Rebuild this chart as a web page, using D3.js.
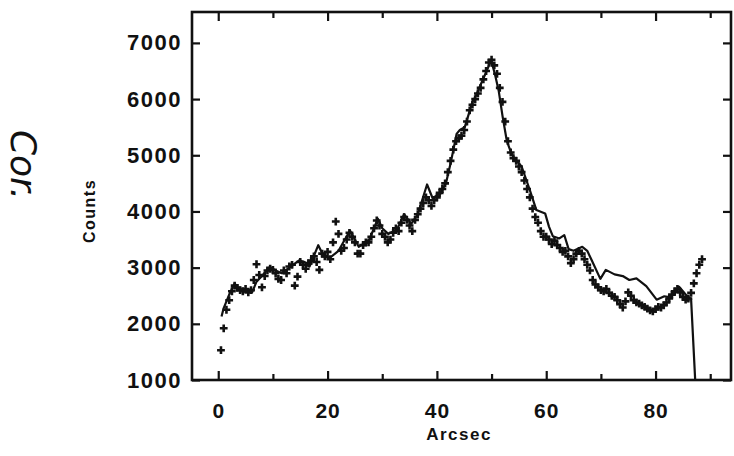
<!DOCTYPE html>
<html>
<head>
<meta charset="utf-8">
<script src="https://cdn.jsdelivr.net/npm/d3@7/dist/d3.min.js"></script>
<style>
  html, body { margin: 0; padding: 0; background: #fff; }
  svg { display: block; }
  .tick text { font-family: "Liberation Sans", Arial, sans-serif; font-weight: bold; fill: #111; }
</style>
</head>
<body>
<svg id="chart" width="734" height="456"></svg>
<script>
// Model profile (solid curve): arcsec positions and counts
const modelArcsec = [0.6, 1, 2, 3, 3.5, 4.5, 6.2, 7, 8, 9.4, 10.5, 11.6, 13, 14.8, 15.8, 16.7, 18.3, 19.3,
  20.5, 22, 24.1, 25, 25.7, 27.6, 29.2, 30, 31.1, 32.7, 34, 35.3, 36.5, 38.2, 39.2, 40.7, 41.7, 42.6,
  43.6, 44.2, 45.1, 46.5, 47.1, 48.1, 49.1, 49.9, 50.6, 51.3, 52, 52.8, 53.4, 54, 55.5, 57, 58.2, 59.8,
  60.5, 61.2, 62.4, 63.3, 64.1, 65, 66.6, 67.5, 68.3, 69.9, 70.9, 72.5, 74, 75.2, 76.5, 78.3, 80.2,
  81.6, 82.7, 84.3, 85.7, 86.5, 87.3];
const modelCounts = [2130, 2280, 2520, 2720, 2650, 2600, 2560, 2750, 2850, 3010, 2950, 2900, 3000, 3130,
  3100, 3020, 3400, 3200, 3180, 3300, 3660, 3500, 3370, 3490, 3870, 3700, 3600, 3680, 3950, 3780, 3950,
  4480, 4240, 4320, 4520, 4900, 5380, 5450, 5500, 5950, 6050, 6280, 6500, 6690, 6450, 6150, 5700, 5250,
  5090, 4970, 4800, 4380, 4025, 3965, 3730, 3560, 3520, 3580, 3330, 3300, 3370, 3300, 3135, 2800, 2960,
  2880, 2850, 2780, 2810, 2670, 2430, 2490, 2470, 2660, 2500, 2440, 900];

// Observed profile (plus markers), sampled every 0.5 arcsec from 0.5 to 88.5
const obsArcsec = d3.range(0.5, 88.51, 0.5);
const obsCounts = [
  1530, 1920, 2250, 2420, 2580, 2680, 2640, 2600, 2580, 2620,
  2560, 2600, 2780, 3060, 2870, 2650, 2850, 2950, 2980, 2960,
  2900, 2800, 2780, 2950, 2900, 3020, 3050, 2680, 2840, 3100,
  3050, 2980, 3080, 3120, 3200, 3100, 2960, 3250, 3200, 3280,
  3150, 3450, 3820, 3600, 3300, 3350, 3500, 3620, 3550, 3450,
  3250, 3250, 3400, 3450, 3450, 3550, 3700, 3840, 3750, 3600,
  3550, 3450, 3500, 3620, 3700, 3650, 3800, 3900, 3850, 3750,
  3650, 3850, 3950, 4050, 4150, 4250, 4200, 4100, 4200, 4250,
  4330, 4400, 4500, 4700, 4900, 5100, 5250, 5300, 5350, 5450,
  5600, 5800, 5900, 6000, 6100, 6200, 6350, 6500, 6650, 6700,
  6600, 6450, 6200, 5950, 5600, 5250, 5050, 4950, 4900, 4800,
  4700, 4550, 4400, 4250, 4050, 3900, 3800, 3650, 3550, 3550,
  3500, 3420, 3480, 3400, 3350, 3280, 3300, 3200, 3080, 3150,
  3250, 3300, 3250, 3150, 3050, 2950, 2780, 2700, 2650, 2600,
  2580, 2620, 2550, 2500, 2480, 2420, 2350, 2290, 2400, 2560,
  2500, 2420, 2380, 2360, 2330, 2300, 2270, 2240, 2220, 2260,
  2300, 2290, 2330, 2380, 2450, 2520, 2580, 2620, 2560, 2480,
  2430, 2450, 2550, 2720, 2900, 3050, 3150];

// Axis ticks
const xMajorTicks = [0, 20, 40, 60, 80];
const xMinorTicks = [10, 30, 50, 70, 90];
const yTicks = [1000, 2000, 3000, 4000, 5000, 6000, 7000];

const svg = d3.select("#chart");
const plot = { left: 192, right: 731, top: 12, bottom: 380 };

const x = d3.scaleLinear().domain([-4.8, 93.8]).range([plot.left, plot.right]);
const y = d3.scaleLinear().domain([1000, 7550]).range([plot.bottom, plot.top]);

svg.append("defs").append("clipPath").attr("id", "plotClip")
  .append("rect")
  .attr("x", plot.left).attr("y", plot.top)
  .attr("width", plot.right - plot.left).attr("height", plot.bottom - plot.top);

const data = svg.append("g").attr("clip-path", "url(#plotClip)");

// observed points
const obs = obsArcsec.map((a, i) => [a, obsCounts[i]]);
data.selectAll("path.obs").data(obs).enter().append("path")
  .attr("class", "obs")
  .attr("transform", d => `translate(${x(d[0])},${y(d[1])})`)
  .attr("d", "M-3.9,0H3.9M0,-3.9V3.9")
  .attr("stroke", "#111").attr("stroke-width", 2.6).attr("fill", "none");

// model curve
const model = modelArcsec.map((a, i) => [a, modelCounts[i]]);
data.append("path")
  .datum(model)
  .attr("d", d3.line().x(d => x(d[0])).y(d => y(d[1])))
  .attr("fill", "none").attr("stroke", "#111").attr("stroke-width", 2.2)
  .attr("stroke-linejoin", "round");

// axes with inward ticks
function styleAxis(g) {
  g.select(".domain").remove();
  g.selectAll(".tick line").attr("stroke", "#111").attr("stroke-width", 2.2);
}

svg.append("g").attr("transform", `translate(0,${plot.bottom})`)
  .call(d3.axisBottom(x).tickValues(xMajorTicks).tickSize(-9).tickPadding(23).tickFormat(d3.format("d")))
  .call(styleAxis)
  .call(g => g.selectAll("text").style("font-size", "21px").attr("letter-spacing", "1"));
svg.append("g").attr("transform", `translate(0,${plot.bottom})`)
  .call(d3.axisBottom(x).tickValues(xMinorTicks).tickSize(-6).tickFormat(""))
  .call(styleAxis);
svg.append("g").attr("transform", `translate(0,${plot.top})`)
  .call(d3.axisTop(x).tickValues(xMajorTicks).tickSize(-9).tickFormat(""))
  .call(styleAxis);
svg.append("g").attr("transform", `translate(0,${plot.top})`)
  .call(d3.axisTop(x).tickValues(xMinorTicks).tickSize(-6).tickFormat(""))
  .call(styleAxis);

svg.append("g").attr("transform", `translate(${plot.left},0)`)
  .call(d3.axisLeft(y).tickValues(yTicks).tickSize(-8).tickPadding(10).tickFormat(d3.format("d")))
  .call(styleAxis)
  .call(g => g.selectAll("text").style("font-size", "22px").attr("letter-spacing", "1.5"));
svg.append("g").attr("transform", `translate(${plot.right},0)`)
  .call(d3.axisRight(y).tickValues(yTicks).tickSize(-8).tickFormat(""))
  .call(styleAxis);

// frame
svg.append("rect")
  .attr("x", plot.left).attr("y", plot.top)
  .attr("width", plot.right - plot.left).attr("height", plot.bottom - plot.top)
  .attr("fill", "none").attr("stroke", "#111").attr("stroke-width", 2.6);

// axis titles
svg.append("text")
  .attr("x", 459).attr("y", 440)
  .attr("text-anchor", "middle")
  .attr("font-family", "'Liberation Sans', Arial, sans-serif")
  .attr("font-weight", "bold").attr("font-size", 17).attr("letter-spacing", 1.5)
  .attr("fill", "#111")
  .text("Arcsec");

svg.append("text")
  .attr("transform", "translate(95,211) rotate(-90)")
  .attr("text-anchor", "middle")
  .attr("font-family", "'Liberation Sans', Arial, sans-serif")
  .attr("font-weight", "bold").attr("font-size", 16).attr("letter-spacing", 1.5)
  .attr("fill", "#111")
  .text("Counts");

// handwritten note in the margin
svg.append("text")
  .attr("transform", "translate(11,165) rotate(90)")
  .attr("text-anchor", "middle")
  .attr("font-family", "'DejaVu Sans', sans-serif")
  .attr("font-size", 36).attr("font-style", "italic")
  .attr("fill", "#111")
  .text("Cor.");
</script>
</body>
</html>
